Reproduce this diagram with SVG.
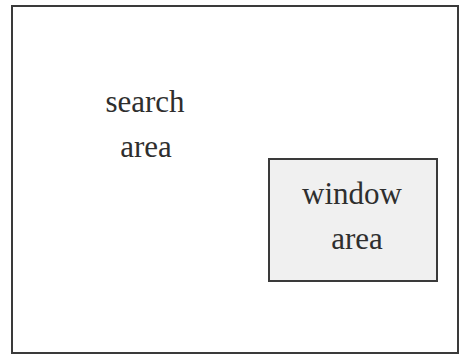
<svg xmlns="http://www.w3.org/2000/svg" width="459" height="356" viewBox="0 0 459 356">
<style>
.box{stroke:#3a3a3a;stroke-width:2}
.lbl{font-family:"Liberation Serif","Times New Roman",serif;font-size:31px;fill:#2e2e2e;text-anchor:middle}
</style>
<rect width="459" height="356" fill="#fff"/>
<g id="search">
<rect class="box" x="12" y="6" width="446" height="347" fill="#fff"/>
<text class="lbl" x="145" y="112">search</text>
<text class="lbl" x="146" y="157">area</text>
</g>
<g id="window">
<rect class="box" x="269" y="159" width="168" height="122" fill="#f0f0f0"/>
<text class="lbl" x="352" y="204">window</text>
<text class="lbl" x="357" y="249">area</text>
</g>
<g id="connectors"/>
</svg>
